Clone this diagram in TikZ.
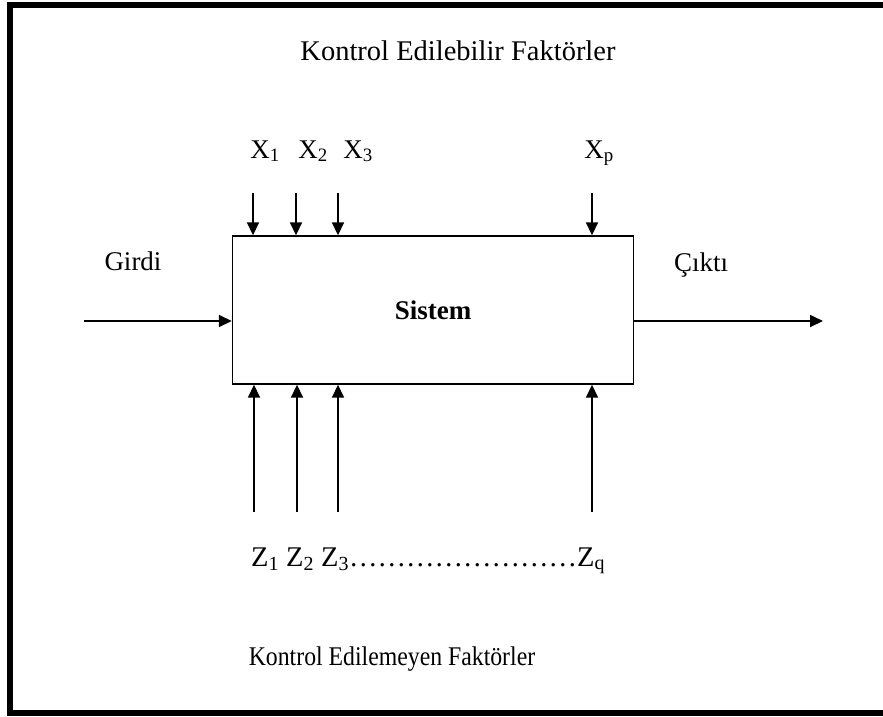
\documentclass[tikz,border=0pt]{standalone}
\usepackage{fontspec}
\setmainfont{Liberation Serif}
\usetikzlibrary{arrows.meta}
\begin{document}
\begin{tikzpicture}[x=1pt,y=-1pt,
  lbl/.style={inner sep=0pt,anchor=base,font=\fontsize{27}{31}\selectfont},
  big/.style={font=\fontsize{28.5}{32}\selectfont},
  arr/.style={line width=1.7pt,-{Triangle[length=13pt,width=12pt]}},
  sysbox/.style={draw,line width=1.4pt,minimum width=401pt,minimum height=148pt,inner sep=0pt,font=\fontsize{27}{31}\selectfont\bfseries}]
\useasboundingbox (0,0) rectangle (883,716);
\draw[line width=6pt] (890,5) -- (10,5) -- (10,713) -- (890,713);
\node[sysbox] (sys) at (433,310) {Sistem};
\node[lbl,big] (t1) at (458,60) {Kontrol Edilebilir Faktörler};
\node[lbl,xscale=0.88] (t2) at (392,665) {Kontrol Edilemeyen Faktörler};
\node[lbl] (gir) at (133,270) {Girdi};
\node[lbl] (cik) at (701,271) {Çıktı};
\node[lbl] (lx1) at (265,158) {X\textsubscript{1}};
\node[lbl] (lx2) at (313,158) {X\textsubscript{2}};
\node[lbl] (lx3) at (358,158) {X\textsubscript{3}};
\node[lbl] (lxp) at (599,158) {X\textsubscript{p}};
\node[lbl,big,anchor=base west] (lz) at (251,566) {Z\textsubscript{1} Z\textsubscript{2} Z\textsubscript{3}……………………Z\textsubscript{q}};
\coordinate (a1) at (253,193);
\coordinate (a2) at (296,193);
\coordinate (a3) at (338,193);
\coordinate (ap) at (592,193);
\coordinate (b1) at (254,512);
\coordinate (b2) at (297,512);
\coordinate (b3) at (338,512);
\coordinate (bq) at (592,512);
\coordinate (in) at (84,321);
\coordinate (out) at (823,321);
\foreach \c in {a1,a2,a3,ap} \draw[arr] (\c) -- (\c |- sys.north);
\foreach \c in {b1,b2,b3,bq} \draw[arr] (\c) -- (\c |- sys.south);
\draw[arr] (in) -- (in -| sys.west);
\draw[arr] (out -| sys.east) -- (out);
\end{tikzpicture}
\end{document}
